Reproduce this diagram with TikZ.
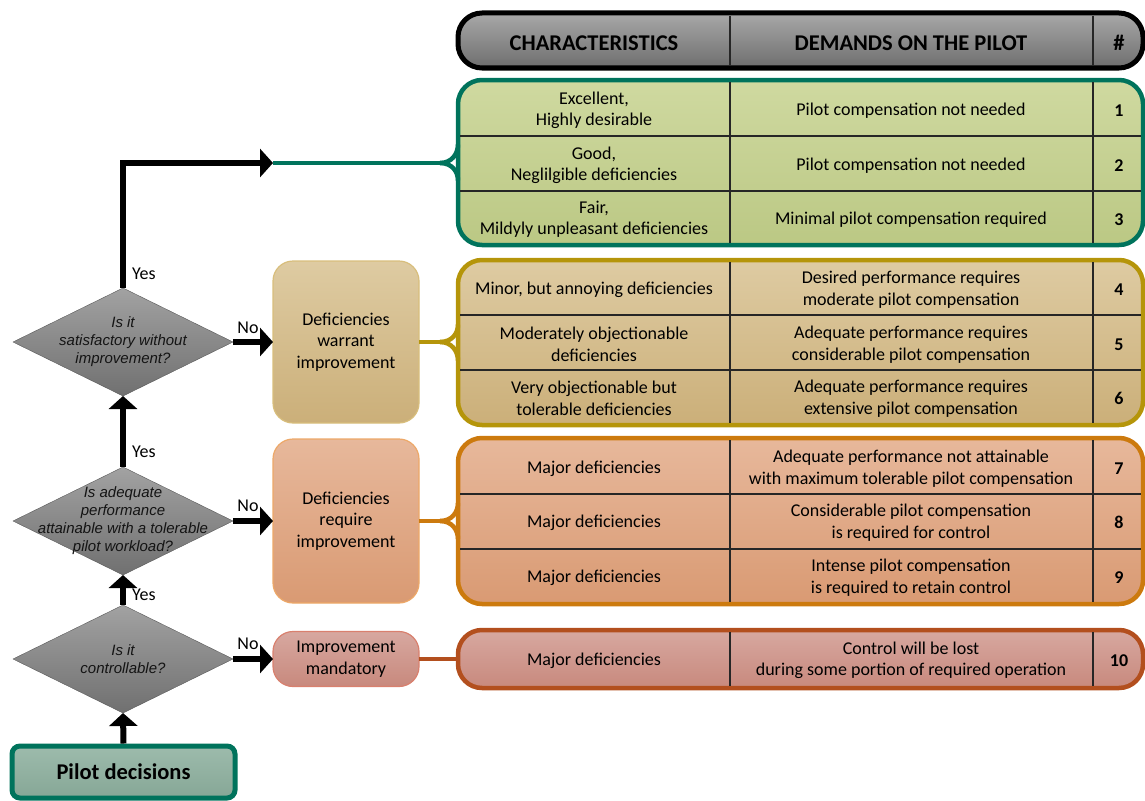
\documentclass[tikz,border=0pt]{standalone}
\usepackage{fontspec}
\setmainfont{Carlito}
\newfontfamily\qfont{Liberation Sans}
\usetikzlibrary{shapes.geometric,arrows.meta,calc}

\definecolor{tealline}{HTML}{00735C}
\definecolor{goldline}{HTML}{B5950A}
\definecolor{orangeline}{HTML}{CC7A0E}
\definecolor{rustline}{HTML}{B34F1E}
\definecolor{hdtop}{HTML}{A8A8A8}
\definecolor{hdbot}{HTML}{6E6E6E}
\definecolor{gAtop}{HTML}{CFD9A0}
\definecolor{gAbot}{HTML}{BBC884}
\definecolor{gBtop}{HTML}{DECBA2}
\definecolor{gBbot}{HTML}{CBAF79}
\definecolor{gCtop}{HTML}{E7B89B}
\definecolor{gCbot}{HTML}{D99A73}
\definecolor{gDtop}{HTML}{D7A8A0}
\definecolor{gDbot}{HTML}{C8897D}
\definecolor{mBline}{HTML}{D8BE7C}
\definecolor{mCline}{HTML}{EDA868}
\definecolor{mDline}{HTML}{D9806E}
\definecolor{qtop}{HTML}{A2A2A2}
\definecolor{qbot}{HTML}{707070}
\definecolor{pilottop}{HTML}{9DBBAC}
\definecolor{pilotbot}{HTML}{86A796}

\newcommand\rowfont{\fontsize{18}{21.5}\selectfont}
\newcommand\headfont{\fontsize{22.5}{26}\selectfont\bfseries}
\newcommand\ratingrow[5]{
  % #1 number, #2 y, #3 characteristics, #4 demands
  \node[cell] (char#1) at (594,#2) {#3};
  \node[cell] (dem#1) at (911,#2) {#4};
  \node[cell,font=\rowfont\bfseries] (num#1) at (1119,#2) {#5};
}

\tikzset{
  question/.style={diamond, draw=qbot!80!black, top color=qtop, bottom color=qbot,
    minimum width=220pt, minimum height=108pt, inner sep=0pt, outer sep=0pt},
  qtext/.style={font=\qfont\itshape\fontsize{15}{18}\selectfont, align=center, text=black!92},
  decision/.style n args={3}{rounded corners=20pt, draw=#1, top color=#2, bottom color=#3,
    line width=1.2pt, minimum width=146pt, align=center, font=\rowfont, outer sep=0pt},
  group/.style n args={3}{rounded corners=24pt, draw=#1, top color=#2, bottom color=#3,
    line width=4.5pt, minimum width=685pt, outer sep=0pt},
  cell/.style={font=\rowfont, align=center, yshift=-1.5pt},
  cellline/.style={line width=1.1pt, black!85},
  flow/.style={line width=6pt, -{Triangle[length=13pt,width=28pt]}},
  link/.style={line width=4.5pt, draw=#1},
  yesno/.style={font=\rowfont, inner sep=2pt},
}

\begin{document}
\begin{tikzpicture}[x=1pt, y=-1pt]
\useasboundingbox (0,0) rectangle (1145,800);

% table
\node[group={black}{hdtop}{hdbot}, minimum height=55pt, line width=5pt] (head) at (800.5,40.5) {};
\node[group={tealline}{gAtop}{gAbot}, minimum height=165pt] (g1) at (800.5,162.5) {};
\node[group={goldline}{gBtop}{gBbot}, minimum height=165pt] (g2) at (800.5,342.5) {};
\node[group={orangeline}{gCtop}{gCbot}, minimum height=166pt] (g3) at (800.5,521) {};
\node[group={rustline}{gDtop}{gDbot}, minimum height=58pt] (g4) at (800.5,659) {};

\foreach \x in {730,1093}
{
  \draw[cellline] (\x,16) -- (\x,66);
  \draw[cellline] (\x,82) -- (\x,243);
  \draw[cellline] (\x,262) -- (\x,423);
  \draw[cellline] (\x,440) -- (\x,602);
  \draw[cellline] (\x,632) -- (\x,686);
}
\foreach \y in {136,191,315,370,494,549}
{
  \draw[cellline] (460,\y) -- (1141,\y);
}

\node[font=\headfont] (hchar) at (594,43) {CHARACTERISTICS};
\node[font=\headfont] (hdem) at (911,43) {DEMANDS ON THE PILOT};
\node[font=\headfont] (hnum) at (1119,43) {\#};

\ratingrow{1}{109}{Excellent,\\Highly desirable}{Pilot compensation not needed}{1}
\ratingrow{2}{164}{Good,\\Neglilgible deficiencies}{Pilot compensation not needed}{2}
\ratingrow{3}{218}{Fair,\\Mildyly unpleasant deficiencies}{Minimal pilot compensation required}{3}
\ratingrow{4}{288}{Minor, but annoying deficiencies}{Desired performance requires\\moderate pilot compensation}{4}
\ratingrow{5}{343}{Moderately objectionable\\deficiencies}{Adequate performance requires\\considerable pilot compensation}{5}
\ratingrow{6}{397}{Very objectionable but\\tolerable deficiencies}{Adequate performance requires\\extensive pilot compensation}{6}
\ratingrow{7}{467}{Major deficiencies}{Adequate performance not attainable\\with maximum tolerable pilot compensation}{7}
\ratingrow{8}{521}{Major deficiencies}{Considerable pilot compensation\\is required for control}{8}
\ratingrow{9}{576}{Major deficiencies}{Intense pilot compensation\\is required to retain control}{9}
\ratingrow{10}{659}{Major deficiencies}{Control will be lost\\during some portion of required operation}{10}

% decisions
\node[question, label={[qtext]center:Is it\\satisfactory without\\improvement?}] (q1) at (123,342) {};
\node[question, label={[qtext]center:Is adequate\\performance\\attainable with a tolerable\\pilot workload?}] (q2) at (123,521) {};
\node[question, label={[qtext]center:Is it\\controllable?}] (q3) at (123,659) {};

\node[rounded corners=8pt, draw=tealline, line width=5pt, top color=pilottop, bottom color=pilotbot,
  minimum width=223pt, minimum height=52pt, font=\headfont] (pilot) at (123.5,772) {Pilot decisions};

\node[decision={mBline}{gBtop}{gBbot}, minimum height=162pt] (m1) at (346,342) {Deficiencies\\warrant\\improvement};
\node[decision={mCline}{gCtop}{gCbot}, minimum height=164pt] (m2) at (346,521) {Deficiencies\\require\\improvement};
\node[decision={mDline}{gDtop}{gDbot}, minimum height=55pt] (m3) at (346,659) {Improvement\\mandatory};

\node[yesno, anchor=west] (yes1) at (130,274) {Yes};
\node[yesno, anchor=west] (yes2) at (130,452) {Yes};
\node[yesno, anchor=west] (yes3) at (130,595) {Yes};
\node[yesno] (no1) at (248,328) {No};
\node[yesno] (no2) at (248,506) {No};
\node[yesno] (no3) at (248,644) {No};

\coordinate (t1) at (273,163);
\coordinate (b1) at (440,163);
\coordinate (b2) at (440,342);
\coordinate (b3) at (440,521);

% arrows
\draw[flow] (pilot.north) -- (q3.south);
\draw[flow] (q3.north) -- (q2.south);
\draw[flow] (q2.north) -- (q1.south);
\draw[flow] (q1.north) |- (t1);
\draw[flow] (q1.east) -- (m1.west);
\draw[flow] (q2.east) -- (m2.west);
\draw[flow] (q3.east) -- (m3.west);

% braces
\draw[link=tealline] (t1) -- (b1);
\draw[link=goldline] (m1.east) -- (b2);
\draw[link=orangeline] (m2.east) -- (b3);
\draw[link=rustline] (m3.east) -- (g4.west);
\draw[link=tealline] (b1) .. controls +(12,0) and +(0,9) .. ($(g1.west)+(0,-18)$);
\draw[link=tealline] (b1) .. controls +(12,0) and +(0,-9) .. ($(g1.west)+(0,18)$);
\draw[link=goldline] (b2) .. controls +(12,0) and +(0,9) .. ($(g2.west)+(0,-18)$);
\draw[link=goldline] (b2) .. controls +(12,0) and +(0,-9) .. ($(g2.west)+(0,18)$);
\draw[link=orangeline] (b3) .. controls +(12,0) and +(0,9) .. ($(g3.west)+(0,-18)$);
\draw[link=orangeline] (b3) .. controls +(12,0) and +(0,-9) .. ($(g3.west)+(0,18)$);
\end{tikzpicture}
\end{document}
